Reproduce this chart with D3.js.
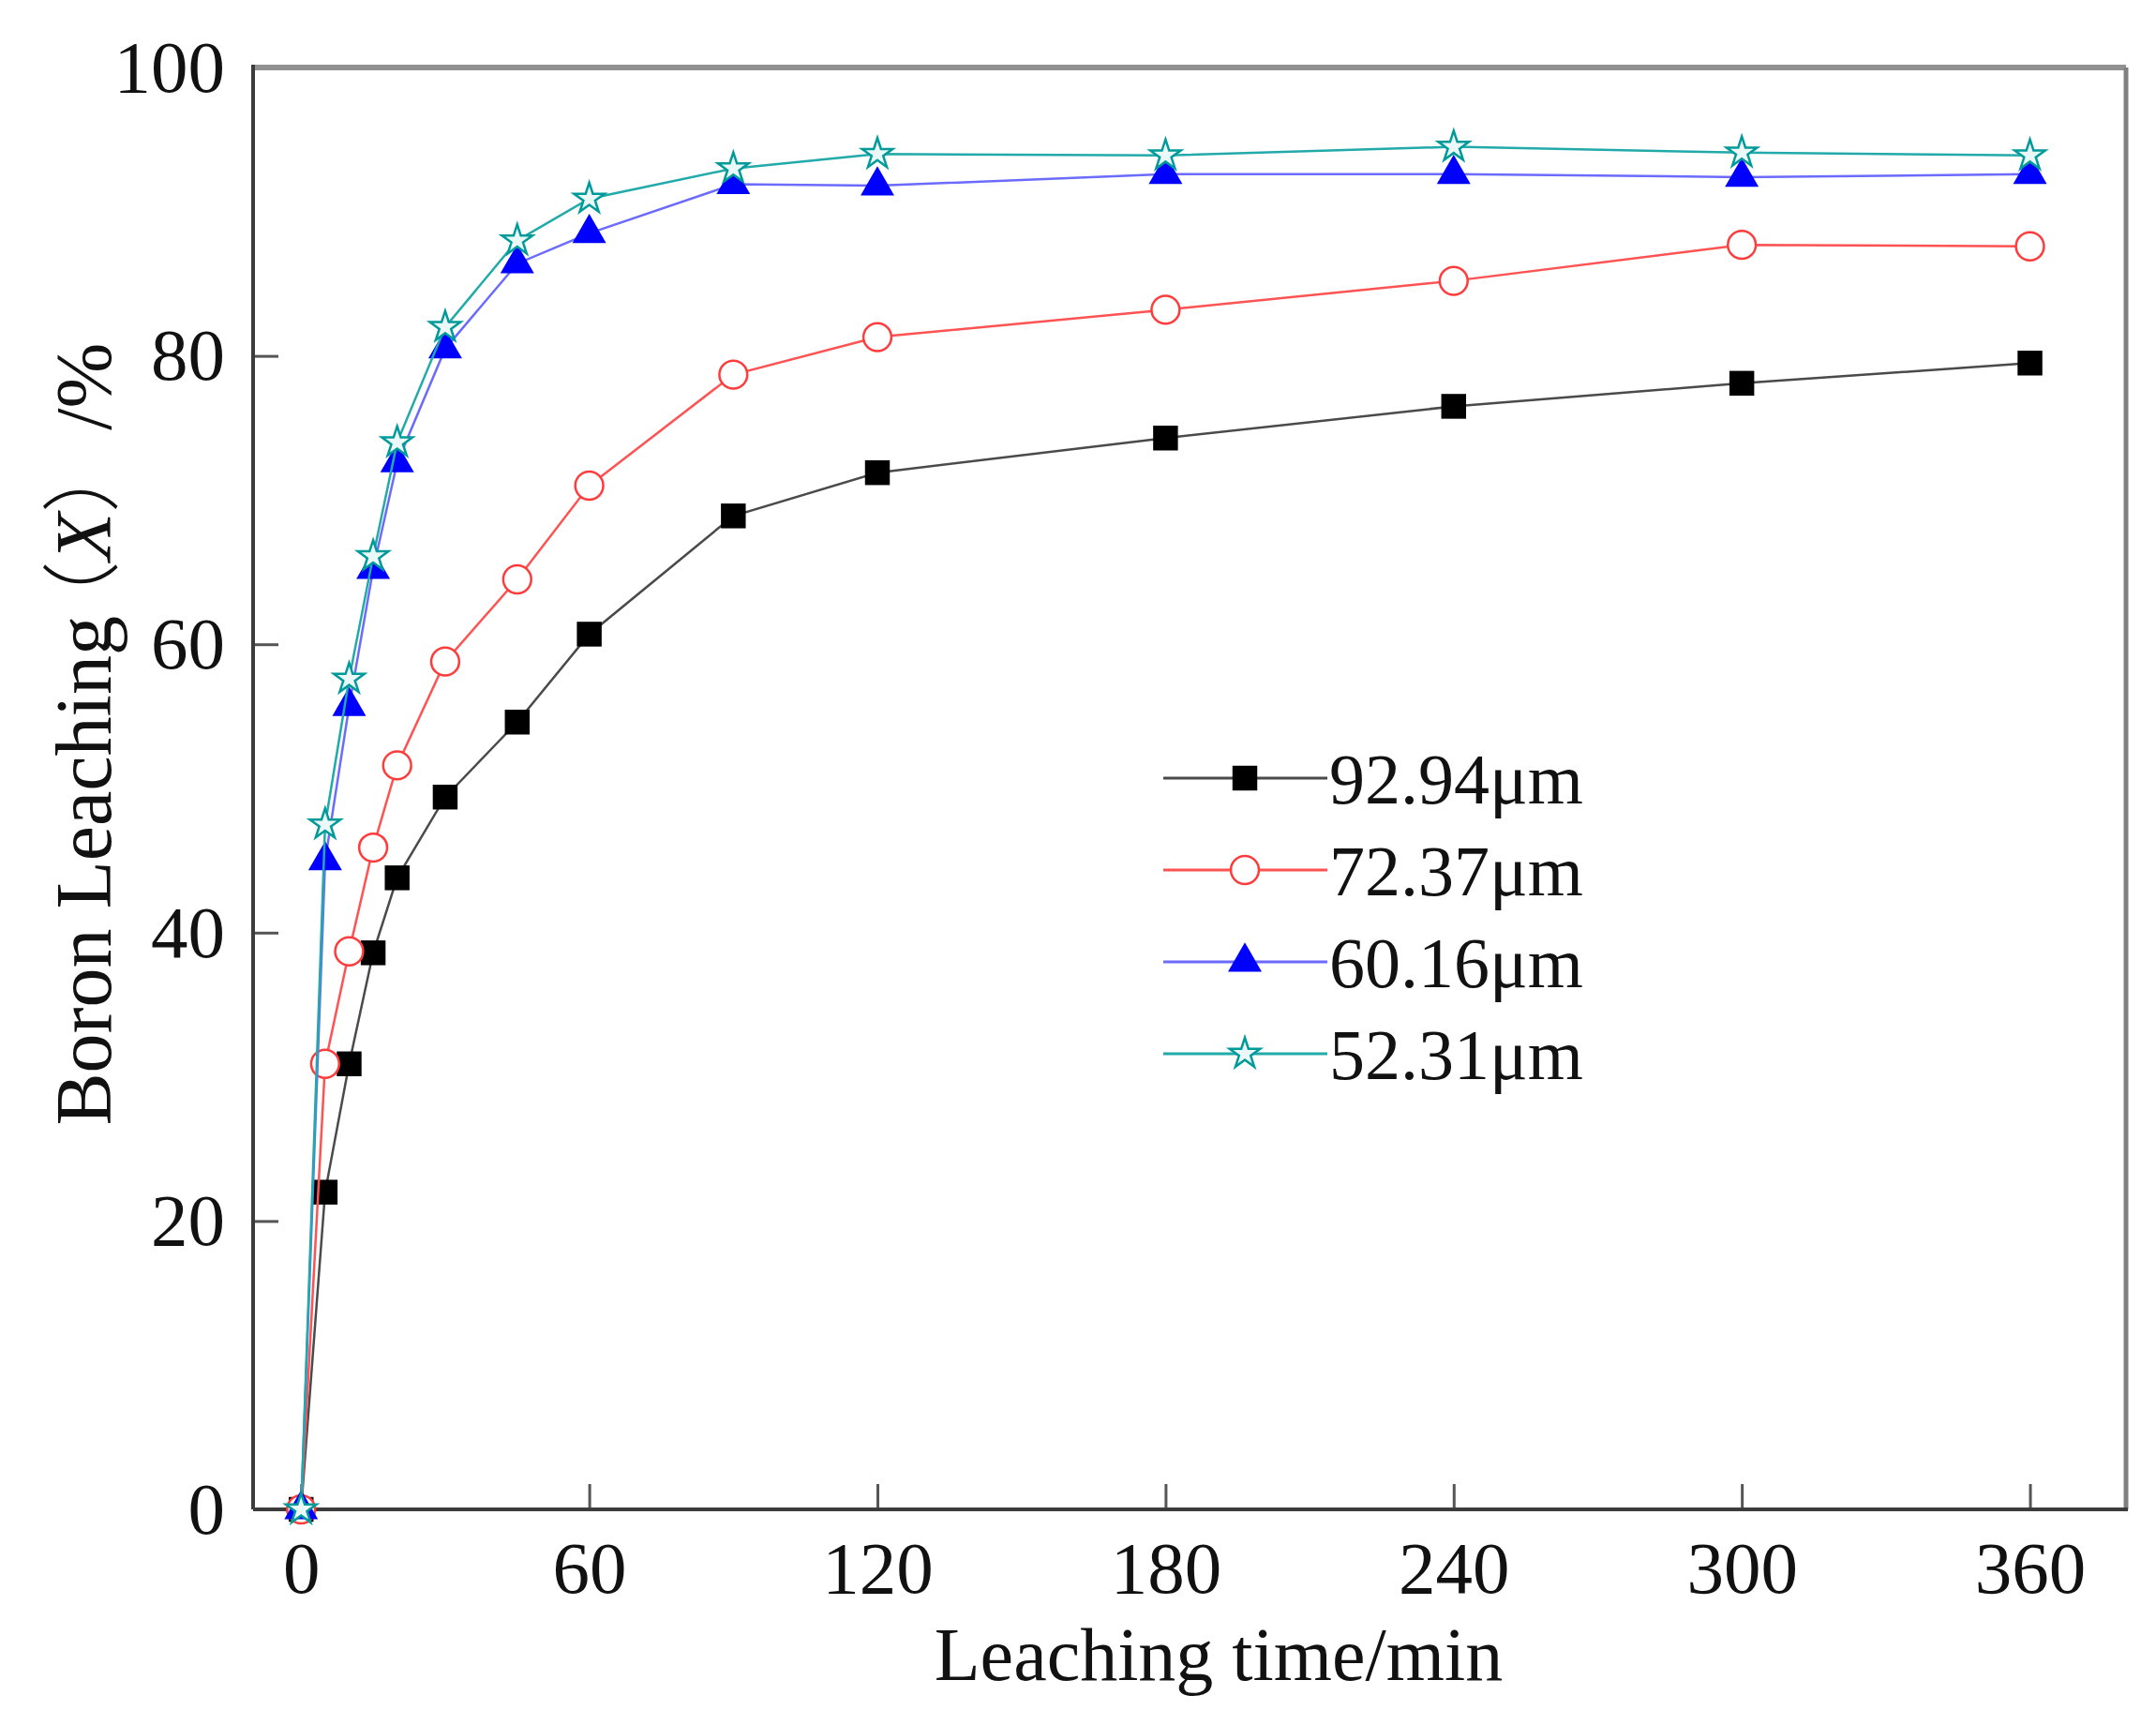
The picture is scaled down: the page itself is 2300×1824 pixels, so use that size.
<!DOCTYPE html>
<html>
<head>
<meta charset="utf-8">
<script src="https://cdn.jsdelivr.net/npm/d3@7"></script>
<style>
  body { margin: 0; background: #fff; }
  svg { display: block; }
  text { font-family: "Liberation Serif", "DejaVu Serif", serif; fill: #111; }
</style>
</head>
<body>
<div id="chart"></div>
<script>
// leaching time (min)
const times = [0, 5, 10, 15, 20, 30, 45, 60, 90, 120, 180, 240, 300, 360];

// boron leaching X (%) for each particle size
const leach9294 = [0, 22.0, 30.9, 38.6, 43.8, 49.4, 54.6, 60.7, 68.9, 71.9, 74.3, 76.5, 78.1, 79.5];
const leach7237 = [0, 30.9, 38.7, 45.9, 51.6, 58.8, 64.5, 71.0, 78.7, 81.3, 83.2, 85.2, 87.7, 87.6];
const leach6016 = [0, 45.0, 55.7, 65.2, 72.6, 80.5, 86.4, 88.5, 91.9, 91.8, 92.6, 92.6, 92.4, 92.6];
const leach5231 = [0, 47.5, 57.6, 66.1, 74.0, 82.0, 88.0, 90.9, 93.0, 94.0, 93.9, 94.5, 94.1, 93.9];

const seriesNames = ["92.94μm", "72.37μm", "60.16μm", "52.31μm"];
const xTicks = [0, 60, 120, 180, 240, 300, 360];
const yTicks = [0, 20, 40, 60, 80, 100];

const W = 2300, H = 1824;
const plot = {left: 270, right: 2268, top: 72, bottom: 1610};

const series = [
  {name: seriesNames[0], values: leach9294, line: "#4a4a4a", shape: d3.symbolSquare, size: 700, fill: "#000", stroke: "none"},
  {name: seriesNames[1], values: leach7237, line: "#ff5252", shape: d3.symbolCircle, size: 700, fill: "#fff", stroke: "#ff3b3b"},
  {name: seriesNames[2], values: leach6016, line: "#6b6bff", shape: d3.symbolTriangle, size: 560, fill: "#0000ff", stroke: "none"},
  {name: seriesNames[3], values: leach5231, line: "#22aaaa", shape: d3.symbolStar, size: 330, fill: "#eaf8f8", stroke: "#009a9a"}
];

const svg = d3.select("#chart").append("svg")
  .attr("width", W).attr("height", H);

const x = d3.scaleLinear().domain([-10, 380]).range([plot.left, plot.right]);
const y = d3.scaleLinear().domain([0, 100]).range([plot.bottom, plot.top]);

// axes (ticks point inward)
const xAxis = svg.append("g")
  .attr("transform", `translate(0,${plot.bottom})`)
  .call(d3.axisBottom(x).tickValues(xTicks).tickSizeInner(-27).tickSizeOuter(0).tickPadding(33));
const yAxis = svg.append("g")
  .attr("transform", `translate(${plot.left},0)`)
  .call(d3.axisLeft(y).tickValues(yTicks).tickSizeInner(-27).tickSizeOuter(0).tickPadding(30));

[xAxis, yAxis].forEach(g => {
  g.select(".domain").remove();
  g.selectAll(".tick line").attr("stroke", "#555").attr("stroke-width", 3);
  g.selectAll(".tick text")
    .style("font-family", "'Liberation Serif', serif")
    .style("font-size", "79px")
    .attr("fill", "#111");
});

// frame: dark left/bottom, gray top/right
svg.append("line").attr("x1", plot.left).attr("x2", plot.right).attr("y1", plot.top).attr("y2", plot.top)
  .attr("stroke", "#909090").attr("stroke-width", 6);
svg.append("line").attr("x1", plot.right).attr("x2", plot.right).attr("y1", plot.top).attr("y2", plot.bottom)
  .attr("stroke", "#808080").attr("stroke-width", 5);
svg.append("line").attr("x1", plot.left).attr("x2", plot.left).attr("y1", plot.top - 3).attr("y2", plot.bottom)
  .attr("stroke", "#3c3c3c").attr("stroke-width", 4);
svg.append("line").attr("x1", plot.left).attr("x2", plot.right + 2).attr("y1", plot.bottom).attr("y2", plot.bottom)
  .attr("stroke", "#3c3c3c").attr("stroke-width", 4);

// series
const line = d3.line().x(d => x(d[0])).y(d => y(d[1]));
const sym = d3.symbol();

series.forEach(s => {
  const pts = times.map((t, i) => [t, s.values[i]]);
  const g = svg.append("g");
  g.append("path").datum(pts)
    .attr("d", line)
    .attr("fill", "none")
    .attr("stroke", s.line)
    .attr("stroke-width", 2.5);
  g.selectAll("path.m").data(pts).join("path")
    .attr("class", "m")
    .attr("transform", d => `translate(${x(d[0])},${y(d[1])})`)
    .attr("d", sym.type(s.shape).size(s.size)())
    .attr("fill", s.fill)
    .attr("stroke", s.stroke)
    .attr("stroke-width", 2.5);
});

// legend
const legend = svg.append("g");
series.forEach((s, i) => {
  const ly = 830 + i * 98;
  legend.append("line")
    .attr("x1", 1241).attr("x2", 1416).attr("y1", ly).attr("y2", ly)
    .attr("stroke", s.line).attr("stroke-width", 3);
  legend.append("path")
    .attr("transform", `translate(1328,${ly})`)
    .attr("d", d3.symbol().type(s.shape).size(s.size)())
    .attr("fill", s.fill)
    .attr("stroke", s.stroke)
    .attr("stroke-width", 2.5);
  legend.append("text")
    .attr("x", 1418).attr("y", ly).attr("dy", "0.35em")
    .style("font-size", "76px")
    .text(s.name);
});

// axis titles
svg.append("text")
  .attr("x", 1300).attr("y", 1792)
  .attr("text-anchor", "middle")
  .style("font-size", "80px")
  .text("Leaching time/min");

const yt = svg.append("text")
  .attr("transform", "translate(118,783) rotate(-90)")
  .attr("text-anchor", "middle")
  .style("font-size", "84px");
yt.append("tspan").text("Boron Leaching");
yt.append("tspan").attr("dx", "-0.3em").style("font-family", "'Noto Sans CJK SC', sans-serif").style("font-weight", 300).text("（");
yt.append("tspan").style("font-style", "italic").text("X");
yt.append("tspan").style("font-family", "'Noto Sans CJK SC', sans-serif").style("font-weight", 300).text("）");
yt.append("tspan").attr("dx", "-0.2em").text(" /%");
</script>
</body>
</html>
